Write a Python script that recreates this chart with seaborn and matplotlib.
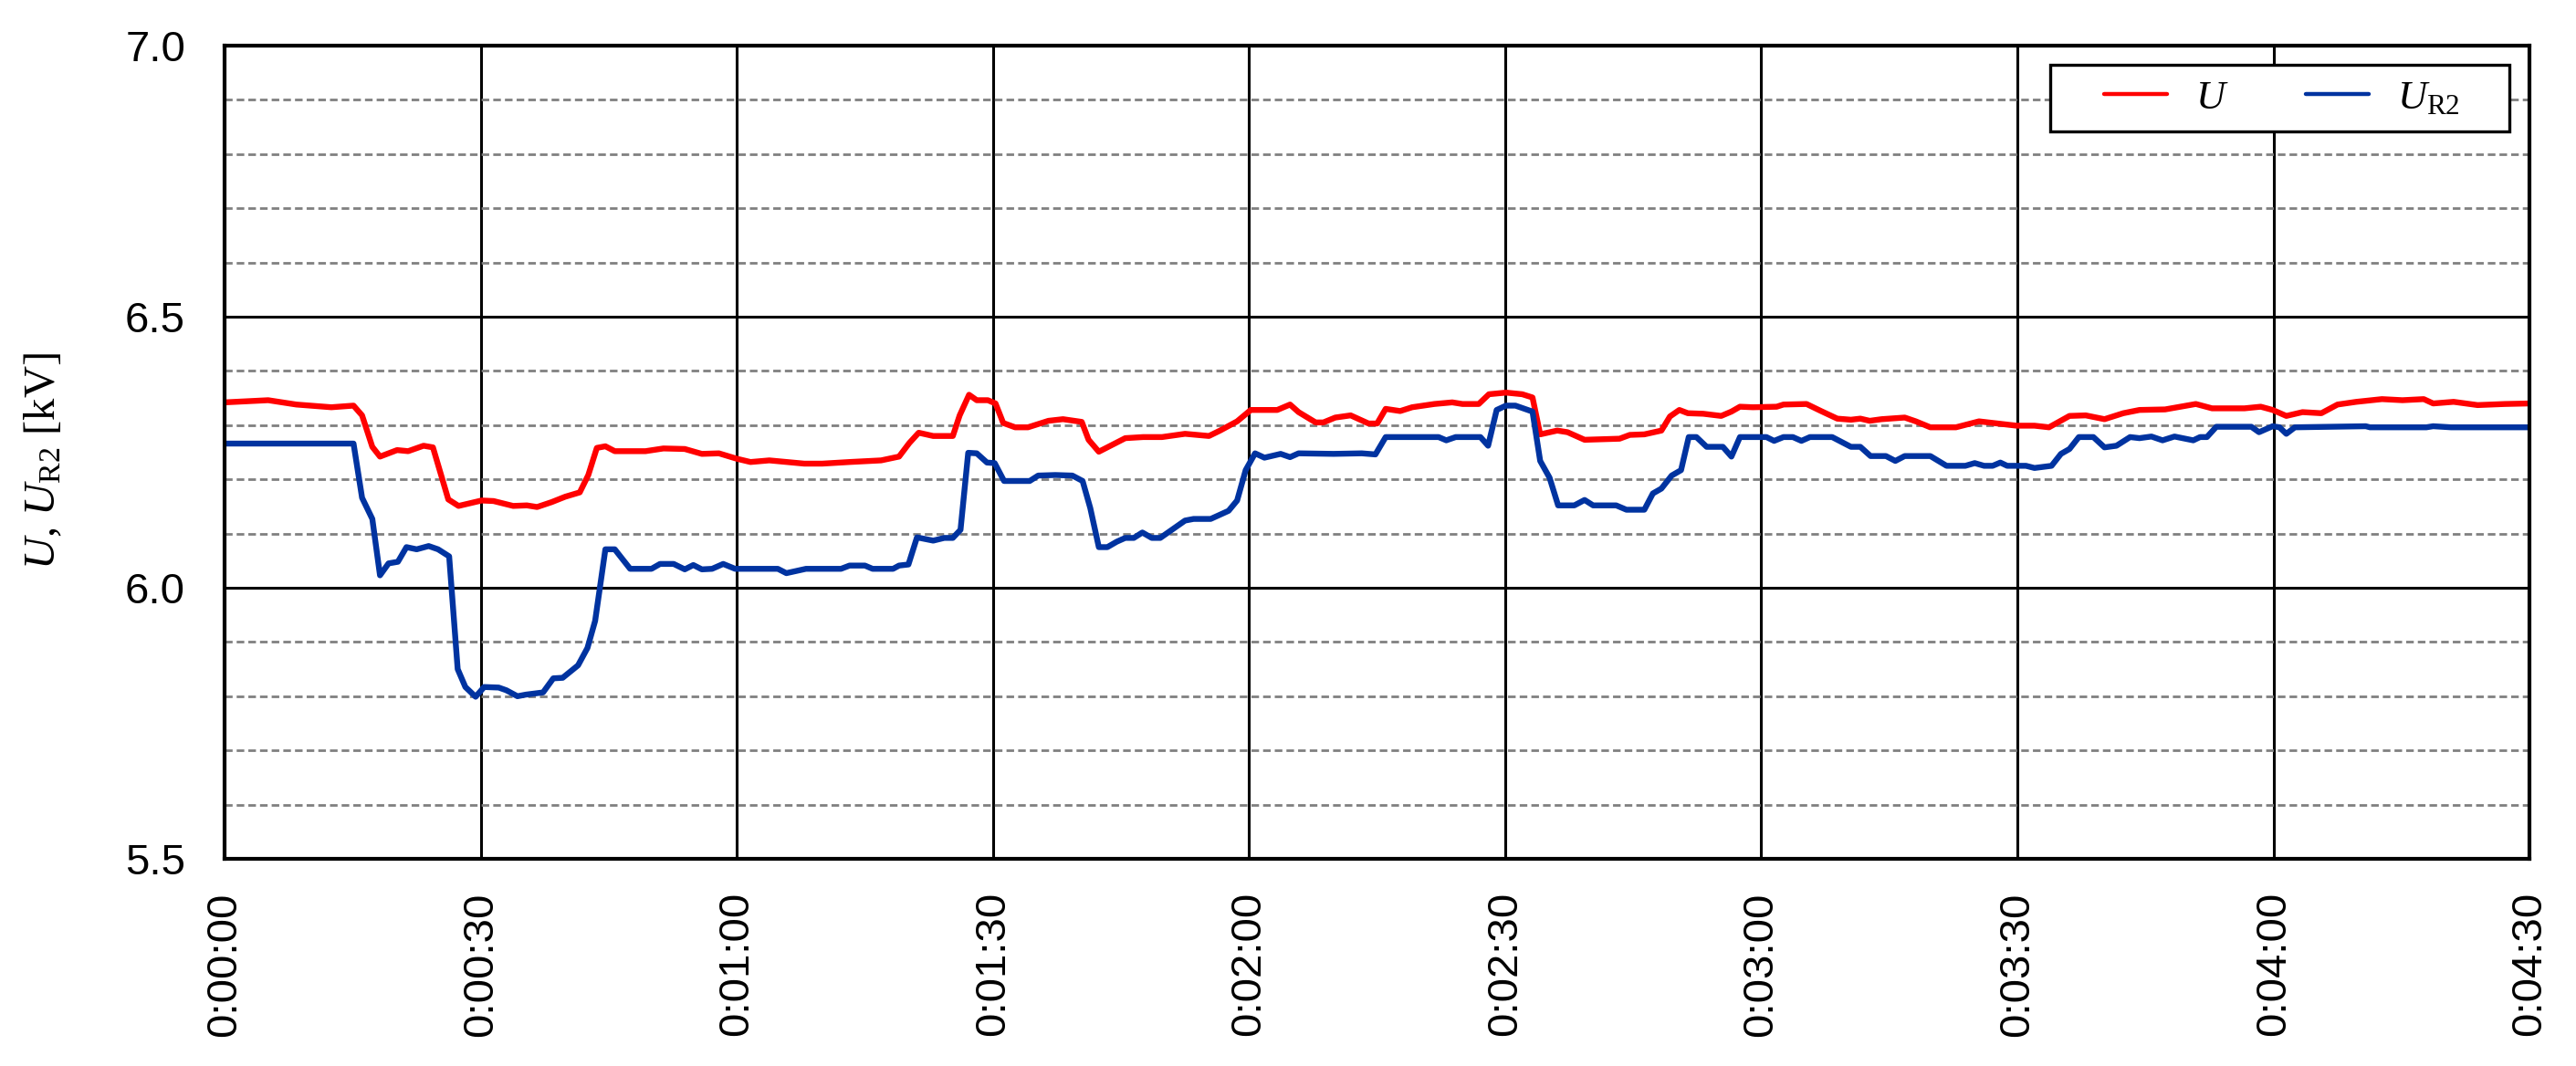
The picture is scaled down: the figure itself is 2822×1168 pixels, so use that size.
# ==========================================
# Voltage U and U_R2 over time (0:00:00 - 0:04:30)
# ==========================================

import matplotlib
matplotlib.use("Agg")

import matplotlib.pyplot as plt
import pandas as pd
import seaborn as sns
from matplotlib.patches import Rectangle
from matplotlib.ticker import MultipleLocator

# ==========================================
# Data
# ==========================================

# time in seconds, voltage in kV
u_time = [
    0, 5.1, 8.4, 12.5, 15.1, 16.1, 17.3, 18.2, 20.2, 21.5, 23.3, 24.4, 26.2, 27.4,
    30.1, 31.5, 33.8, 35.4, 36.6, 38.3, 39.9, 41.6, 42.6, 43.6, 44.6, 45.7, 49.3,
    51.4, 53.9, 55.9, 57.9, 60.0, 61.6, 63.8, 67.9, 70.0, 73.2, 76.9, 79.0, 80.2,
    81.3, 83.0, 85.3, 86.1, 87.2, 88.1, 89.4, 90.3, 91.2, 92.6, 94.1, 96.5, 98.2,
    100.4, 101.2, 102.4, 103.9, 105.5, 107.6, 109.8, 112.5, 115.3, 116.6, 118.6,
    120.2, 123.3, 124.8, 125.8, 127.8, 128.7, 130.1, 131.9, 134.0, 135.0, 136.0,
    137.7, 139.1, 141.7, 143.8, 145.0, 146.9, 148.1, 150.1, 152.0, 153.2, 154.1,
    156.1, 157.3, 159.3, 163.4, 164.6, 166.3, 168.3, 169.3, 170.4, 171.4, 173.2,
    175.3, 176.5, 177.5, 179.0, 181.8, 182.6, 185.3, 187.0, 188.9, 190.5, 191.6,
    192.7, 194.1, 196.8, 198.1, 199.8, 202.8, 205.5, 207.7, 209.9, 212.0, 213.7,
    216.1, 218.0, 220.2, 222.4, 224.3, 227.3, 230.9, 232.8, 236.6, 238.5, 239.9,
    241.5, 243.4, 245.6, 247.5, 249.7, 252.7, 255.1, 257.6, 258.7, 261.1, 263.9,
    267.1, 270,
]
u_values = [
    6.342, 6.346, 6.338, 6.333, 6.336, 6.318, 6.260, 6.242, 6.254, 6.252, 6.262,
    6.259, 6.163, 6.151, 6.161, 6.160, 6.151, 6.152, 6.149, 6.158, 6.168, 6.176,
    6.208, 6.258, 6.261, 6.252, 6.252, 6.257, 6.256, 6.247, 6.248, 6.238, 6.232,
    6.235, 6.229, 6.229, 6.232, 6.235, 6.242, 6.267, 6.286, 6.280, 6.280, 6.318,
    6.356, 6.346, 6.346, 6.340, 6.304, 6.296, 6.296, 6.308, 6.311, 6.306, 6.273,
    6.251, 6.263, 6.276, 6.278, 6.278, 6.284, 6.280, 6.290, 6.307, 6.328, 6.328,
    6.338, 6.324, 6.305, 6.305, 6.314, 6.318, 6.303, 6.303, 6.330, 6.326, 6.333,
    6.339, 6.342, 6.339, 6.339, 6.357, 6.360, 6.357, 6.351, 6.283, 6.290, 6.287,
    6.273, 6.275, 6.282, 6.283, 6.290, 6.316, 6.328, 6.322, 6.321, 6.317, 6.325,
    6.334, 6.333, 6.334, 6.338, 6.339, 6.326, 6.312, 6.310, 6.312, 6.308, 6.311,
    6.314, 6.307, 6.296, 6.296, 6.307, 6.303, 6.299, 6.299, 6.296, 6.317, 6.318,
    6.311, 6.322, 6.328, 6.329, 6.339, 6.331, 6.331, 6.334, 6.328, 6.317, 6.324,
    6.322, 6.338, 6.343, 6.348, 6.346, 6.348, 6.340, 6.343, 6.337, 6.339, 6.340,
]

ur2_time = [
    0, 15.1, 16.1, 17.3, 18.2, 19.2, 20.3, 21.3, 22.5, 23.9, 25.0, 26.3, 27.3, 28.2,
    29.4, 30.4, 32.1, 33.0, 34.3, 35.3, 37.3, 38.5, 39.6, 41.4, 42.5, 43.4, 44.6,
    45.7, 47.5, 50.0, 51.0, 52.6, 53.9, 54.9, 55.9, 57.1, 58.4, 59.8, 64.8, 65.8,
    68.1, 72.2, 73.2, 75.0, 75.9, 78.3, 79.0, 80.1, 81.1, 83.0, 84.3, 85.3, 86.2,
    87.1, 88.1, 89.3, 90.2, 91.3, 94.3, 95.3, 97.3, 99.3, 100.5, 101.4, 102.4,
    103.4, 104.5, 105.5, 106.5, 107.5, 108.6, 109.6, 112.5, 113.5, 115.5, 117.6,
    118.6, 119.6, 120.7, 121.8, 123.7, 124.8, 125.8, 129.9, 133.2, 134.8, 136.0,
    142.2, 143.1, 144.2, 147.1, 148.0, 149.0, 150.1, 151.2, 153.2, 154.1, 155.2,
    156.2, 158.1, 159.3, 160.3, 163.0, 164.2, 166.3, 167.3, 168.3, 169.5, 170.6,
    171.5, 172.4, 173.6, 175.5, 176.5, 177.5, 180.6, 181.5, 182.6, 183.7, 184.7,
    185.7, 188.3, 190.5, 191.6, 192.8, 194.6, 195.7, 196.8, 199.8, 201.7, 203.9,
    205.0, 206.1, 207.1, 208.0, 208.8, 211.0, 212.0, 214.0, 215.1, 216.1, 217.2,
    218.9, 220.2, 221.6, 223.2, 224.3, 225.7, 227.0, 228.4, 230.6, 231.4, 232.2,
    233.3, 237.4, 238.3, 239.9, 240.7, 241.5, 242.5, 250.8, 251.3, 257.9, 258.7,
    260.8, 270,
]
ur2_values = [
    6.266, 6.266, 6.166, 6.127, 6.023, 6.045, 6.048, 6.075, 6.071, 6.077, 6.071,
    6.058, 5.850, 5.817, 5.799, 5.817, 5.816, 5.811, 5.800, 5.803, 5.807, 5.833,
    5.834, 5.857, 5.889, 5.939, 6.071, 6.071, 6.035, 6.035, 6.044, 6.044, 6.034,
    6.042, 6.034, 6.035, 6.044, 6.035, 6.035, 6.027, 6.035, 6.035, 6.041, 6.041,
    6.035, 6.035, 6.041, 6.043, 6.093, 6.087, 6.092, 6.092, 6.107, 6.249, 6.248,
    6.231, 6.230, 6.197, 6.197, 6.207, 6.208, 6.207, 6.197, 6.147, 6.075, 6.075,
    6.085, 6.092, 6.092, 6.102, 6.092, 6.092, 6.124, 6.127, 6.127, 6.142, 6.161,
    6.217, 6.248, 6.240, 6.247, 6.241, 6.248, 6.247, 6.248, 6.246, 6.278, 6.278,
    6.272, 6.278, 6.278, 6.262, 6.328, 6.336, 6.336, 6.325, 6.234, 6.203, 6.152,
    6.152, 6.162, 6.152, 6.152, 6.144, 6.144, 6.174, 6.183, 6.207, 6.217, 6.278,
    6.278, 6.260, 6.260, 6.242, 6.278, 6.278, 6.271, 6.278, 6.278, 6.271, 6.278,
    6.278, 6.260, 6.260, 6.243, 6.243, 6.234, 6.243, 6.243, 6.225, 6.225, 6.230,
    6.225, 6.225, 6.231, 6.225, 6.225, 6.221, 6.225, 6.247, 6.256, 6.278, 6.278,
    6.259, 6.262, 6.278, 6.276, 6.279, 6.272, 6.279, 6.272, 6.278, 6.278, 6.297,
    6.297, 6.287, 6.298, 6.296, 6.284, 6.296, 6.298, 6.296, 6.296, 6.298, 6.296,
    6.296,
]

series_names = [r"$U$", r"$U_{\mathrm{R2}}$"]
series_colors = ["#FF0000", "#0033A0"]

x_ticks = [0, 30, 60, 90, 120, 150, 180, 210, 240, 270]
x_tick_labels = ["0:00:00", "0:00:30", "0:01:00", "0:01:30", "0:02:00",
                 "0:02:30", "0:03:00", "0:03:30", "0:04:00", "0:04:30"]
y_ticks = [5.5, 6.0, 6.5, 7.0]
y_tick_labels = ["5.5", "6.0", "6.5", "7.0"]

# ==========================================
# Build long-form table
# ==========================================

df = pd.concat([
    pd.DataFrame({"t": u_time, "kV": u_values, "series": series_names[0]}),
    pd.DataFrame({"t": ur2_time, "kV": ur2_values, "series": series_names[1]}),
])

# ==========================================
# Plot
# ==========================================

sns.set_style("white")
plt.rcParams["font.family"] = ["Liberation Sans", "DejaVu Sans"]
plt.rcParams["text.color"] = "black"
plt.rcParams["axes.labelcolor"] = "black"
plt.rcParams["xtick.color"] = "black"
plt.rcParams["ytick.color"] = "black"
plt.rcParams["mathtext.fontset"] = "custom"
plt.rcParams["mathtext.rm"] = "Liberation Serif"
plt.rcParams["mathtext.it"] = "Liberation Serif:italic"
plt.rcParams["mathtext.bf"] = "Liberation Serif:bold"

fig = plt.figure(figsize=(28.22, 11.68), dpi=100)
ax = fig.add_axes([0.0872, 0.1943, 0.8948, 0.7629])

sns.lineplot(
    data=df, x="t", y="kV", hue="series",
    hue_order=series_names,
    palette=dict(zip(series_names, series_colors)),
    estimator=None, sort=False, linewidth=4.6,
    ax=ax,
)

ax.set_xlim(0, 270)
ax.set_ylim(5.5, 7.0)
ax.set_xticks(x_ticks)
ax.set_xticklabels(x_tick_labels, rotation=90)
ax.set_yticks(y_ticks)
ax.set_yticklabels(y_tick_labels)
ax.yaxis.set_minor_locator(MultipleLocator(0.1))

ax.set_axisbelow(True)
ax.grid(which="major", axis="both", color="black", linewidth=2.2)
ax.grid(which="minor", axis="y", color="#808080", linewidth=2,
        linestyle=(0, (3, 1.6)))

for spine in ax.spines.values():
    spine.set_color("black")
    spine.set_linewidth(3)

ax.tick_params(axis="both", which="both", length=0, labelsize=34,
               labelcolor="black")
ax.tick_params(axis="y", pad=31)
ax.tick_params(axis="x", pad=26)

ax.set_xlabel("")
ax.set_ylabel(r"$U$, $U_{\mathrm{R2}}$ [kV]", fontsize=35,
              fontfamily="Liberation Serif", color="black")
ax.yaxis.set_label_coords(-0.0697, 0.489)

# legend box
ax.add_patch(Rectangle((0.7921, 0.8945), 0.1992, 0.0819,
                       transform=ax.transAxes, facecolor="white",
                       edgecolor="black", linewidth=2.4, zorder=4,
                       clip_on=False))

handles, labels = ax.get_legend_handles_labels()
leg = ax.legend(
    handles, labels, ncol=2, loc="center",
    bbox_to_anchor=(0.8927, 0.9355), frameon=False,
    fontsize=32, handlelength=1.55, handletextpad=0.7,
    columnspacing=1.9,
)
leg.set_zorder(5)
for t in leg.get_texts():
    t.set_color("black")
for h in leg.legend_handles:
    h.set_linewidth(3.2)

fig.savefig("out.png", dpi=100)
